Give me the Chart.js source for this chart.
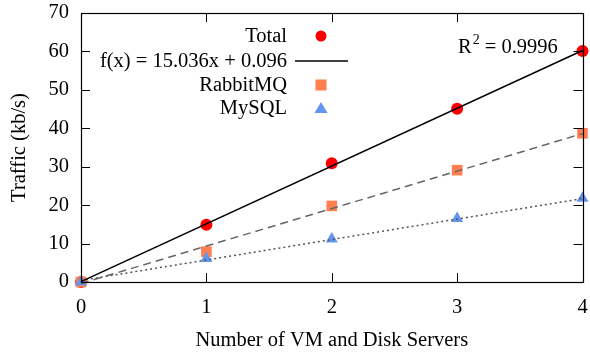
<!DOCTYPE html>
<html>
<head>
<meta charset="utf-8">
<script src="https://cdn.jsdelivr.net/npm/chart.js@4/dist/chart.umd.min.js"></script>
<style>
  html, body { margin: 0; padding: 0; background: #fff; }
  #wrap { width: 590px; height: 353px; }
</style>
</head>
<body>
<div id="wrap"><canvas id="chart" width="590" height="353"></canvas></div>
<script>
// values
const servers = [0, 1, 2, 3, 4];
const total = [0, 14.9, 30.9, 45.1, 60.1];
const rabbitmq = [0, 7.9, 19.8, 29.1, 38.7];
const mysql = [0, 6.1, 11.2, 16.5, 21.8];

// fitted lines, end points only
const fitX = [0, 4];
const totalFit = [0.096, 60.24];
const rabbitFit = [-0.4, 38.6];
const mysqlFit = [0.4, 21.7];

const yTicks = [0, 10, 20, 30, 40, 50, 60, 70];
const xTicks = [0, 1, 2, 3, 4];

const FONT = 'Liberation Serif';
const FS = 20.5;

function pts(xs, ys) {
    return xs.map((x, i) => ({ x: x, y: ys[i] }));
}

// gnuplot style: ticks inside, mirrored on top and right, plus the box
const frame = {
    id: 'frame',
    afterDatasetsDraw(chart) {
        const { ctx, chartArea: a, scales } = chart;
        ctx.save();
        ctx.strokeStyle = '#000';
        ctx.lineWidth = 1;
        ctx.beginPath();
        yTicks.forEach(v => {
            const y = Math.round(scales.y.getPixelForValue(v)) + 0.5;
            ctx.moveTo(a.left, y); ctx.lineTo(a.left + 9, y);
            ctx.moveTo(a.right, y); ctx.lineTo(a.right - 9, y);
        });
        xTicks.forEach(v => {
            const x = Math.round(scales.x.getPixelForValue(v)) + 0.5;
            ctx.moveTo(x, a.bottom); ctx.lineTo(x, a.bottom - 9);
            ctx.moveTo(x, a.top); ctx.lineTo(x, a.top + 9);
        });
        ctx.stroke();
        ctx.lineWidth = 1.2;
        ctx.strokeRect(Math.round(a.left) + 0.5, Math.round(a.top) + 0.5,
            Math.round(a.right - a.left), Math.round(a.bottom - a.top));
        ctx.restore();
    }
};

// key box in the upper left, text right aligned, sample on the right
const key = {
    id: 'key',
    afterDatasetsDraw(chart) {
        const { ctx } = chart;
        const rows = [
            { text: 'Total', kind: 'circle', y: 36 },
            { text: 'f(x) = 15.036x + 0.096', kind: 'line', y: 61 },
            { text: 'RabbitMQ', kind: 'rect', y: 85 },
            { text: 'MySQL', kind: 'triangle', y: 108 }
        ];
        ctx.save();
        ctx.font = FS + 'px "' + FONT + '"';
        ctx.textAlign = 'right';
        ctx.textBaseline = 'middle';
        rows.forEach(r => {
            ctx.fillStyle = '#000';
            ctx.fillText(r.text, 287, r.y + 1);
            const cx = 321;
            if (r.kind === 'circle') {
                ctx.fillStyle = '#ff0000';
                ctx.beginPath(); ctx.arc(cx, r.y, 5.5, 0, Math.PI * 2); ctx.fill();
            } else if (r.kind === 'line') {
                ctx.strokeStyle = '#000'; ctx.lineWidth = 1.5;
                ctx.beginPath(); ctx.moveTo(295, r.y); ctx.lineTo(348, r.y); ctx.stroke();
            } else if (r.kind === 'rect') {
                ctx.fillStyle = '#ff7f50';
                ctx.fillRect(cx - 5.5, r.y - 5.5, 11, 11);
            } else {
                ctx.fillStyle = '#6495ed';
                ctx.beginPath();
                ctx.moveTo(cx, r.y - 6); ctx.lineTo(cx + 6.5, r.y + 5); ctx.lineTo(cx - 6.5, r.y + 5);
                ctx.closePath(); ctx.fill();
            }
        });
        // R^2 label
        ctx.textAlign = 'left';
        ctx.fillStyle = '#000';
        ctx.fillText('R', 458, 48);
        const rw = ctx.measureText('R').width;
        ctx.font = '14px "' + FONT + '"';
        ctx.fillText('2', 458 + rw + 1, 40);
        const sw = ctx.measureText('2').width;
        ctx.font = FS + 'px "' + FONT + '"';
        ctx.fillText(' = 0.9996', 458 + rw + sw + 1, 48);
        ctx.restore();
    }
};

const ctx = document.getElementById('chart').getContext('2d');
new Chart(ctx, {
    type: 'scatter',
    data: {
        datasets: [{
            label: 'f(x) = 15.036x + 0.096',
            type: 'line',
            data: pts(fitX, totalFit),
            borderColor: '#000',
            borderWidth: 1.5,
            pointRadius: 0,
            fill: false,
            order: 2
        }, {
            label: 'RabbitMQ fit',
            type: 'line',
            data: pts(fitX, rabbitFit),
            borderColor: '#666',
            borderWidth: 1.5,
            borderDash: [8, 5],
            pointRadius: 0,
            fill: false,
            order: 2
        }, {
            label: 'MySQL fit',
            type: 'line',
            data: pts(fitX, mysqlFit),
            borderColor: '#555',
            borderWidth: 1.5,
            borderDash: [2, 3],
            pointRadius: 0,
            fill: false,
            order: 2
        }, {
            label: 'Total',
            data: pts(servers, total),
            pointStyle: 'circle',
            pointRadius: 6,
            backgroundColor: '#ff0000',
            borderWidth: 0,
            order: 5
        }, {
            label: 'RabbitMQ',
            data: pts(servers, rabbitmq),
            pointStyle: 'rect',
            pointRadius: 7.5,
            backgroundColor: '#ff7f50',
            borderWidth: 0,
            order: 4
        }, {
            label: 'MySQL',
            data: pts(servers, mysql),
            pointStyle: 'triangle',
            pointRadius: 7,
            backgroundColor: '#6495ed',
            borderWidth: 0,
            order: 3
        }]
    },
    options: {
        responsive: false,
        animation: false,
        clip: false,
        layout: { padding: { top: 13, right: 6, left: 0, bottom: 0 } },
        plugins: {
            legend: { display: false },
            tooltip: { enabled: false }
        },
        scales: {
            x: {
                type: 'linear',
                min: 0,
                max: 4,
                afterFit(s) { s.height = 71; s.paddingLeft = 0; s.paddingRight = 0; },
                afterBuildTicks(s) { s.ticks = xTicks.map(v => ({ value: v })); },
                grid: { display: false },
                border: { display: false },
                ticks: {
                    color: '#000',
                    padding: 5,
                    font: { family: FONT, size: FS }
                },
                title: {
                    display: true,
                    text: 'Number of VM and Disk Servers',
                    color: '#000',
                    padding: { top: 12, bottom: 0 },
                    font: { family: FONT, size: FS }
                }
            },
            y: {
                type: 'linear',
                min: 0,
                max: 70,
                afterFit(s) { s.width = 81; s.paddingTop = 0; s.paddingBottom = 0; },
                afterBuildTicks(s) { s.ticks = yTicks.map(v => ({ value: v })); },
                grid: { display: false },
                border: { display: false },
                ticks: {
                    color: '#000',
                    padding: 4,
                    font: { family: FONT, size: FS }
                },
                title: {
                    display: true,
                    text: 'Traffic (kb/s)',
                    color: '#000',
                    padding: { top: 7, bottom: 0 },
                    font: { family: FONT, size: FS }
                }
            }
        }
    },
    plugins: [frame, key]
});
</script>
</body>
</html>
